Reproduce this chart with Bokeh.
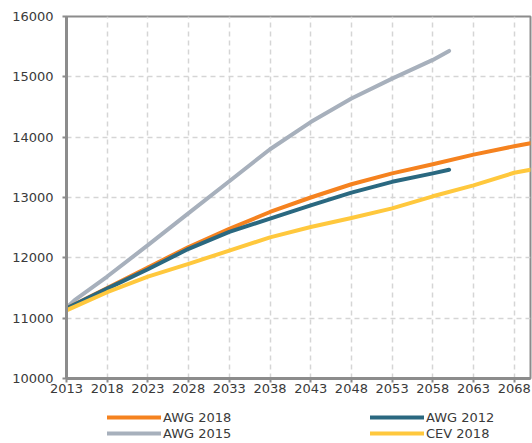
from bokeh.plotting import figure
from bokeh.models import Range1d, FixedTicker, Legend, LegendItem
from bokeh.layouts import column
from bokeh.embed import file_html
from bokeh.resources import INLINE

# ---- data ----
years_awg2018 = [2013, 2018, 2023, 2028, 2033, 2038, 2043, 2048, 2053, 2058, 2063, 2068, 2070]
awg2018 = [11160, 11500, 11840, 12180, 12480, 12760, 13000, 13220, 13400, 13550, 13710, 13850, 13900]

years_awg2012 = [2013, 2018, 2023, 2028, 2033, 2038, 2043, 2048, 2053, 2058, 2060]
awg2012 = [11160, 11490, 11810, 12150, 12430, 12650, 12870, 13080, 13260, 13400, 13460]

years_awg2015 = [2013, 2014, 2018, 2023, 2028, 2033, 2038, 2043, 2048, 2053, 2058, 2060]
awg2015 = [11170, 11300, 11690, 12210, 12740, 13270, 13800, 14250, 14640, 14970, 15280, 15430]

years_cev2018 = [2013, 2018, 2023, 2028, 2033, 2038, 2043, 2048, 2053, 2058, 2063, 2068, 2070]
cev2018 = [11130, 11430, 11690, 11900, 12120, 12340, 12510, 12660, 12820, 13020, 13200, 13410, 13460]

x_ticks = [2013, 2018, 2023, 2028, 2033, 2038, 2043, 2048, 2053, 2058, 2063, 2068]
y_ticks = [10000, 11000, 12000, 13000, 14000, 15000, 16000]

C_ORANGE = "#F5821F"
C_TEAL = "#2A6880"
C_GRAY = "#A7B0BC"
C_YELLOW = "#FFC83D"
AXIS_GRAY = "#8C8C8C"
FONT = "DejaVu Sans"

p = figure(width=532, height=402, output_backend="svg", toolbar_location=None,
           x_range=Range1d(2013, 2070), y_range=Range1d(10000, 16000),
           min_border_left=66, min_border_right=2, min_border_top=16, min_border_bottom=24)

p.outline_line_color = AXIS_GRAY
p.outline_line_width = 2
p.background_fill_color = "white"
p.border_fill_color = "white"

for ax in (p.xaxis[0], p.yaxis[0]):
    ax.axis_line_color = AXIS_GRAY
    ax.axis_line_width = 3
    ax.major_tick_line_color = AXIS_GRAY
    ax.major_tick_line_width = 2
    ax.major_tick_out = 4
    ax.major_tick_in = 0
    ax.minor_tick_line_color = None
    ax.major_label_text_font = FONT
    ax.major_label_text_font_size = "13px"
    ax.major_label_text_color = "#3A3A3A"

p.xaxis.ticker = FixedTicker(ticks=x_ticks)
p.yaxis.ticker = FixedTicker(ticks=y_ticks)
p.xaxis.major_label_standoff = 1
p.yaxis.major_label_standoff = 9

for g in (p.xgrid[0], p.ygrid[0]):
    g.grid_line_color = "#D5D5D5"
    g.grid_line_width = 1.5
    g.grid_line_dash = "5 4"
p.xgrid.ticker = FixedTicker(ticks=x_ticks)
p.ygrid.ticker = FixedTicker(ticks=y_ticks)

lw = 4
kw = dict(line_width=lw, line_cap="round", line_join="round")
p.line(years_awg2015, awg2015, line_color=C_GRAY, **kw)
p.line(years_awg2018, awg2018, line_color=C_ORANGE, **kw)
p.line(years_awg2012, awg2012, line_color=C_TEAL, **kw)
p.line(years_cev2018, cev2018, line_color=C_YELLOW, **kw)

# ---- legend strip below the chart ----
q = figure(width=532, height=41, output_backend="svg", toolbar_location=None,
           x_range=Range1d(0, 1), y_range=Range1d(0, 1),
           min_border_left=0, min_border_right=0, min_border_top=0, min_border_bottom=0)
q.axis.visible = False
q.grid.visible = False
q.outline_line_color = None
q.background_fill_color = "white"
q.border_fill_color = "white"

# legend key renderers (placed outside the visible range of the strip)
off_x = [-10, -9]
off_y = [-10, -9]
lkw = dict(line_width=lw, line_cap="round")
d_orange = q.line(off_x, off_y, line_color=C_ORANGE, **lkw)
d_teal = q.line(off_x, off_y, line_color=C_TEAL, **lkw)
d_gray = q.line(off_x, off_y, line_color=C_GRAY, **lkw)
d_yellow = q.line(off_x, off_y, line_color=C_YELLOW, **lkw)


def make_legend(items, loc):
    return Legend(items=items, location=loc, orientation="vertical",
                  glyph_width=54, glyph_height=16, label_height=16,
                  label_standoff=2, spacing=0, padding=0, margin=0,
                  border_line_alpha=0, background_fill_alpha=0,
                  label_text_font=FONT, label_text_font_size="13px",
                  label_text_color="#3A3A3A")


q.add_layout(make_legend([LegendItem(label="AWG 2018", renderers=[d_orange]),
                          LegendItem(label="AWG 2015", renderers=[d_gray])], (41, 2)))
q.add_layout(make_legend([LegendItem(label="AWG 2012", renderers=[d_teal]),
                          LegendItem(label="CEV 2018", renderers=[d_yellow])], (304, 2)))

layout = column(p, q, spacing=0)
open("out.html", "w").write(file_html(layout, INLINE))
